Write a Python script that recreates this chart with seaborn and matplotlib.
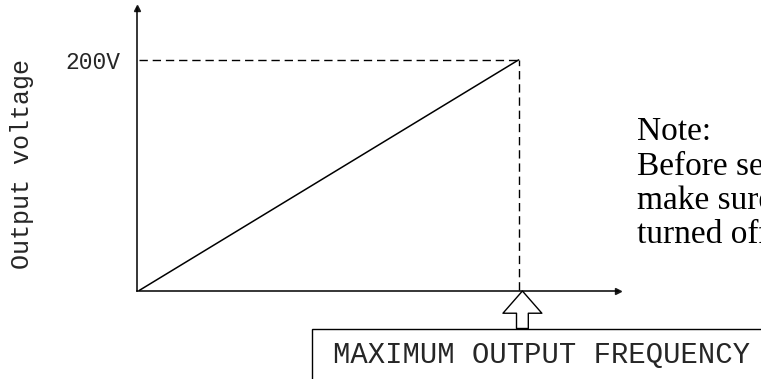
import numpy as np
import pandas as pd
import seaborn as sns
import matplotlib.pyplot as plt
from matplotlib.patches import Rectangle

# chart data
frequency = [0, 100]        # % of maximum output frequency
voltage = [0, 200]          # output voltage (V)
ytick_values = [200]
ytick_labels = ["200V"]
ylabel = "Output voltage"
box_label = "MAXIMUM OUTPUT FREQUENCY"
note_lines = ["Note:", "Before setting,", "make sure the power is", "turned off."]

W, H = 761, 379

def fx(px):
    return px / W

def fy(py):
    return 1 - py / H

sns.set_theme(style="white")
plt.rcParams["axes.edgecolor"] = "black"
plt.rcParams["axes.linewidth"] = 1.1

fig = plt.figure(figsize=(W / 100, H / 100), dpi=100)
ax = fig.add_axes([fx(137), fy(291), (618 - 137) / W, (291 - 8) / H])

df = pd.DataFrame({"frequency": frequency, "voltage": voltage})
sns.lineplot(data=df, x="frequency", y="voltage", color="black", lw=1.1, ax=ax)

fmax, vmax = frequency[-1], voltage[-1]
dash = (0, (6, 3.5))
ax.plot([0, fmax], [vmax, vmax], color="black", lw=1.0, ls=dash)
ax.plot([fmax, fmax], [0, vmax], color="black", lw=1.0, ls=dash)

ax.set_xlim(-0.6, 126.2)
ax.set_ylim(-0.5, 245)
sns.despine(ax=ax)

# arrow heads on the axes
ax.plot(1, 0, ">k", ms=5, transform=ax.transAxes, clip_on=False)
ax.plot(0, 1, "^k", ms=5, transform=ax.transAxes, clip_on=False)

ax.set_xticks([])
ax.set_yticks(ytick_values, ytick_labels)
ax.tick_params(axis="y", length=0, pad=12, labelsize=16.5)
for t in ax.get_yticklabels():
    t.set_fontfamily("Liberation Mono")
ax.set_xlabel("")
ax.set_ylabel(ylabel, fontsize=18, family="Liberation Mono")
ax.yaxis.set_label_coords(-0.215, 0.45)

# hollow arrow pointing at the maximum frequency
ax.annotate("", xy=(fmax + 1, 0), xycoords=("data", "axes fraction"),
            xytext=(0, -27), textcoords="offset points",
            arrowprops=dict(arrowstyle="simple,head_length=1.6,head_width=2.8,tail_width=0.85",
                            mutation_scale=10, fc="white", ec="black", lw=1.0,
                            shrinkA=0, shrinkB=0))

# label box, running off the right and bottom edges
fig.add_artist(Rectangle((fx(312), fy(420)), 1.0, (420 - 329) / H,
                         transform=fig.transFigure, fc="white", ec="black", lw=1.0))
fig.text(fx(333), fy(363), box_label, family="Liberation Mono", fontsize=20.8,
         va="baseline", ha="left")

fig.text(fx(637), fy(117), "\n".join(note_lines), family="Liberation Serif",
         fontsize=24, va="top", ha="left", linespacing=1.15, color="black")

fig.savefig("out.png", dpi=100)
